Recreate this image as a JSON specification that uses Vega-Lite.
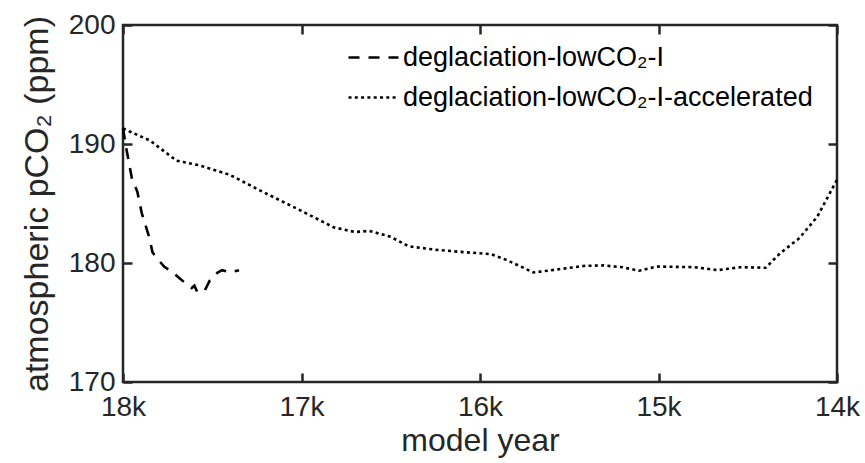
{
  "$schema": "https://vega.github.io/schema/vega-lite/v6.json",
  "width": 714,
  "height": 357,
  "autosize": {"type": "none"},
  "padding": {"left": 123, "top": 25, "right": 28, "bottom": 81},
  "background": "white",
  "config": {
    "font": "Liberation Sans",
    "view": {"stroke": "#262626", "strokeWidth": 2.5},
    "axis": {
      "domain": false,
      "grid": false,
      "tickColor": "#262626",
      "tickWidth": 2.5,
      "tickSize": -9,
      "labelColor": "#262626",
      "labelFontSize": 28,
      "titleColor": "#262626",
      "titleFontSize": 32,
      "titleFontWeight": "normal"
    }
  },
  "data": {
    "values": [
      {"year": 18000, "co2": 191.3, "run": "deglaciation-lowCO₂-I"},
      {"year": 17980, "co2": 189.5, "run": "deglaciation-lowCO₂-I"},
      {"year": 17950, "co2": 187.1, "run": "deglaciation-lowCO₂-I"},
      {"year": 17920, "co2": 186.0, "run": "deglaciation-lowCO₂-I"},
      {"year": 17895, "co2": 184.2, "run": "deglaciation-lowCO₂-I"},
      {"year": 17870, "co2": 183.0, "run": "deglaciation-lowCO₂-I"},
      {"year": 17850, "co2": 182.0, "run": "deglaciation-lowCO₂-I"},
      {"year": 17835, "co2": 180.9, "run": "deglaciation-lowCO₂-I"},
      {"year": 17815, "co2": 180.5, "run": "deglaciation-lowCO₂-I"},
      {"year": 17770, "co2": 179.7, "run": "deglaciation-lowCO₂-I"},
      {"year": 17730, "co2": 179.3, "run": "deglaciation-lowCO₂-I"},
      {"year": 17690, "co2": 178.8, "run": "deglaciation-lowCO₂-I"},
      {"year": 17650, "co2": 178.3, "run": "deglaciation-lowCO₂-I"},
      {"year": 17615, "co2": 177.9, "run": "deglaciation-lowCO₂-I"},
      {"year": 17600, "co2": 178.1, "run": "deglaciation-lowCO₂-I"},
      {"year": 17585, "co2": 177.6, "run": "deglaciation-lowCO₂-I"},
      {"year": 17545, "co2": 177.6, "run": "deglaciation-lowCO₂-I"},
      {"year": 17515, "co2": 178.5, "run": "deglaciation-lowCO₂-I"},
      {"year": 17470, "co2": 179.2, "run": "deglaciation-lowCO₂-I"},
      {"year": 17445, "co2": 179.4, "run": "deglaciation-lowCO₂-I"},
      {"year": 17400, "co2": 179.2, "run": "deglaciation-lowCO₂-I"},
      {"year": 17350, "co2": 179.4, "run": "deglaciation-lowCO₂-I"},
      {"year": 18000, "co2": 191.3, "run": "deglaciation-lowCO₂-I-accelerated"},
      {"year": 17850, "co2": 190.3, "run": "deglaciation-lowCO₂-I-accelerated"},
      {"year": 17700, "co2": 188.6, "run": "deglaciation-lowCO₂-I-accelerated"},
      {"year": 17570, "co2": 188.2, "run": "deglaciation-lowCO₂-I-accelerated"},
      {"year": 17400, "co2": 187.4, "run": "deglaciation-lowCO₂-I-accelerated"},
      {"year": 17220, "co2": 186.0, "run": "deglaciation-lowCO₂-I-accelerated"},
      {"year": 17030, "co2": 184.6, "run": "deglaciation-lowCO₂-I-accelerated"},
      {"year": 16820, "co2": 183.0, "run": "deglaciation-lowCO₂-I-accelerated"},
      {"year": 16700, "co2": 182.6, "run": "deglaciation-lowCO₂-I-accelerated"},
      {"year": 16620, "co2": 182.7, "run": "deglaciation-lowCO₂-I-accelerated"},
      {"year": 16500, "co2": 182.2, "run": "deglaciation-lowCO₂-I-accelerated"},
      {"year": 16400, "co2": 181.4, "run": "deglaciation-lowCO₂-I-accelerated"},
      {"year": 16240, "co2": 181.1, "run": "deglaciation-lowCO₂-I-accelerated"},
      {"year": 16080, "co2": 180.9, "run": "deglaciation-lowCO₂-I-accelerated"},
      {"year": 15940, "co2": 180.75, "run": "deglaciation-lowCO₂-I-accelerated"},
      {"year": 15850, "co2": 180.25, "run": "deglaciation-lowCO₂-I-accelerated"},
      {"year": 15700, "co2": 179.2, "run": "deglaciation-lowCO₂-I-accelerated"},
      {"year": 15570, "co2": 179.45, "run": "deglaciation-lowCO₂-I-accelerated"},
      {"year": 15420, "co2": 179.75, "run": "deglaciation-lowCO₂-I-accelerated"},
      {"year": 15310, "co2": 179.8, "run": "deglaciation-lowCO₂-I-accelerated"},
      {"year": 15200, "co2": 179.64, "run": "deglaciation-lowCO₂-I-accelerated"},
      {"year": 15110, "co2": 179.35, "run": "deglaciation-lowCO₂-I-accelerated"},
      {"year": 15010, "co2": 179.7, "run": "deglaciation-lowCO₂-I-accelerated"},
      {"year": 14800, "co2": 179.65, "run": "deglaciation-lowCO₂-I-accelerated"},
      {"year": 14670, "co2": 179.4, "run": "deglaciation-lowCO₂-I-accelerated"},
      {"year": 14540, "co2": 179.65, "run": "deglaciation-lowCO₂-I-accelerated"},
      {"year": 14400, "co2": 179.6, "run": "deglaciation-lowCO₂-I-accelerated"},
      {"year": 14320, "co2": 180.8, "run": "deglaciation-lowCO₂-I-accelerated"},
      {"year": 14210, "co2": 182.1, "run": "deglaciation-lowCO₂-I-accelerated"},
      {"year": 14110, "co2": 183.9, "run": "deglaciation-lowCO₂-I-accelerated"},
      {"year": 14000, "co2": 187.0, "run": "deglaciation-lowCO₂-I-accelerated"}
    ]
  },
  "layer": [
    {
      "mark": {"type": "line", "color": "black", "strokeWidth": 2.6, "strokeCap": "butt"},
      "encoding": {
        "x": {
          "field": "year", "type": "quantitative",
          "scale": {"domain": [14000, 18000], "reverse": true, "nice": false},
          "axis": {"values": [18000, 17000, 16000, 15000, 14000], "labelExpr": "datum.value / 1000 + 'k'", "title": "model year", "labelPadding": 20, "titlePadding": 4, "labelFlush": false}
        },
        "y": {
          "field": "co2", "type": "quantitative",
          "scale": {"domain": [170, 200], "nice": false, "zero": false},
          "axis": {"values": [170, 180, 190, 200], "title": "atmospheric pCO₂ (ppm)", "labelPadding": 17, "titlePadding": 14, "titleFontSize": 34}
        },
        "strokeDash": {
          "field": "run", "type": "nominal",
          "scale": {"domain": ["deglaciation-lowCO₂-I", "deglaciation-lowCO₂-I-accelerated"], "range": [[11, 9], [3, 3.3]]},
          "legend": {
            "title": null, "orient": "none", "legendX": 224, "legendY": 6,
            "symbolType": "stroke", "symbolSize": 2500, "symbolStrokeWidth": 2.6, "symbolStrokeColor": "black",
            "labelFontSize": 27, "labelColor": "black", "labelOffset": 3, "rowPadding": -7, "labelLimit": 600
          }
        }
      }
    },
    {
      "mark": {"type": "point", "opacity": 0},
      "encoding": {
        "x": {"field": "year", "type": "quantitative", "axis": {"orient": "top", "values": [18000, 17000, 16000, 15000, 14000], "labels": false, "title": null}},
        "y": {"field": "co2", "type": "quantitative", "axis": {"orient": "right", "values": [170, 180, 190, 200], "labels": false, "title": null}}
      }
    }
  ],
  "resolve": {"axis": {"x": "independent", "y": "independent"}}
}
